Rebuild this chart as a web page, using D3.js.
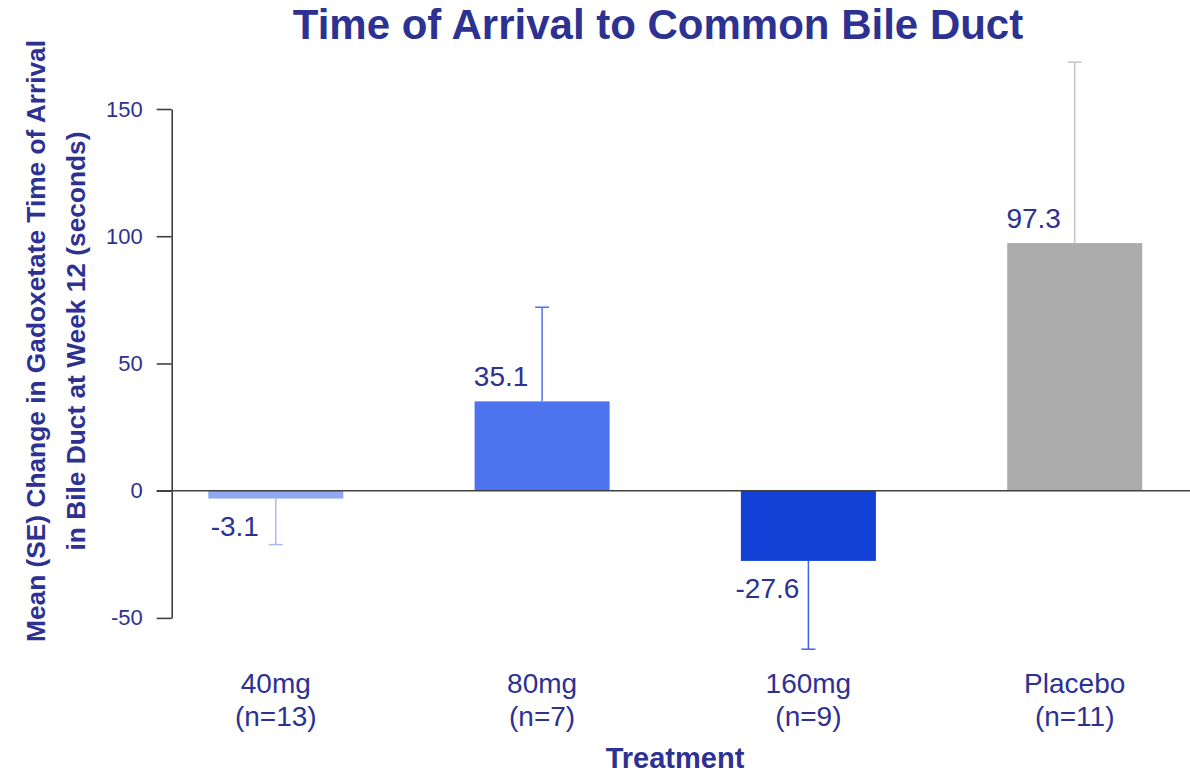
<!DOCTYPE html>
<html>
<head>
<meta charset="utf-8">
<script src="https://cdn.jsdelivr.net/npm/d3@7"></script>
<style>
  html, body { margin: 0; padding: 0; background: #fff; }
  svg { display: block; font-family: "Liberation Sans", Arial, sans-serif; }
</style>
</head>
<body>
<svg id="chart" width="1190" height="774"></svg>
<script>
// Treatment groups and their results
const doses      = ["40mg", "80mg", "160mg", "Placebo"];
const groupSizes = ["(n=13)", "(n=7)", "(n=9)", "(n=11)"];
const means      = [-3.1, 35.1, -27.6, 97.3];
const stdErrors  = [18.1, 37.0, 34.7, 71.1];
const barColors  = ["#91a7f4", "#4e73ee", "#1341d8", "#acacac"];
const errColors  = ["#a9bbf6", "#4e73ee", "#3d63e8", "#c4c4c4"];
const yTicks     = [-50, 0, 50, 100, 150];

const navy = "#2d3192";
const svg = d3.select("#chart");

const x = d3.scaleBand()
  .domain(doses)
  .range([171.7, 1178.8])
  .paddingInner(0.493)
  .paddingOuter(0.1374);

const y = d3.scaleLinear().domain([-50, 150]).range([617.9, 109]);

// Title
svg.append("text")
  .attr("x", 658).attr("y", 39)
  .attr("text-anchor", "middle")
  .attr("font-size", 42).attr("font-weight", "bold")
  .attr("fill", navy)
  .text("Time of Arrival to Common Bile Duct");

// Y axis (plain hyphen for negatives)
const yAxis = svg.append("g")
  .attr("transform", "translate(171.7,0)")
  .call(d3.axisLeft(y)
    .tickValues(yTicks)
    .tickFormat(v => String(v))
    .tickSize(15).tickPadding(14).tickSizeOuter(0));
yAxis.select(".domain").attr("stroke", "#404040").attr("stroke-width", 1.6);
yAxis.selectAll(".tick line").attr("stroke", "#404040").attr("stroke-width", 1.6);
yAxis.selectAll(".tick text")
  .attr("font-size", 22).attr("fill", navy)
  .attr("font-family", "Liberation Sans, Arial, sans-serif");

// Y axis title (two lines)
const yTitle = svg.append("text")
  .attr("transform", "translate(0,341) rotate(-90)")
  .attr("text-anchor", "middle")
  .attr("font-size", 26.3).attr("font-weight", "bold")
  .attr("fill", navy);
yTitle.append("tspan").attr("x", 0).attr("y", 45)
  .text("Mean (SE) Change in Gadoxetate Time of Arrival");
yTitle.append("tspan").attr("x", 0).attr("y", 85)
  .text("in Bile Duct at Week 12 (seconds)");

const rows = doses.map((d, i) => ({
  dose: d, n: groupSizes[i], mean: means[i], se: stdErrors[i],
  fill: barColors[i], err: errColors[i]
}));

// Error bars (drawn in the direction of the mean)
const errG = svg.append("g");
rows.forEach(r => {
  const cx = x(r.dose) + x.bandwidth() / 2;
  const end = r.mean >= 0 ? r.mean + r.se : r.mean - r.se;
  errG.append("line")
    .attr("x1", cx).attr("x2", cx)
    .attr("y1", y(r.mean)).attr("y2", y(end))
    .attr("stroke", r.err).attr("stroke-width", 1.5);
  errG.append("line")
    .attr("x1", cx - 7).attr("x2", cx + 7)
    .attr("y1", y(end)).attr("y2", y(end))
    .attr("stroke", r.err).attr("stroke-width", 1.5);
});

// Bars
svg.append("g").selectAll("rect")
  .data(rows)
  .join("rect")
  .attr("x", d => x(d.dose))
  .attr("width", x.bandwidth())
  .attr("y", d => y(Math.max(0, d.mean)))
  .attr("height", d => Math.abs(y(d.mean) - y(0)))
  .attr("fill", d => d.fill);

// Zero line
svg.append("line")
  .attr("x1", 156.7).attr("x2", 1190)
  .attr("y1", y(0)).attr("y2", y(0))
  .attr("stroke", "#404040").attr("stroke-width", 1.6);

// Value labels
svg.append("g").selectAll("text")
  .data(rows)
  .join("text")
  .attr("x", d => x(d.dose) + x.bandwidth() / 2 - 41)
  .attr("y", d => d.mean >= 0 ? y(d.mean) - 15 : y(d.mean) + 37)
  .attr("text-anchor", "middle")
  .attr("font-size", 28)
  .attr("fill", navy)
  .text(d => d.mean.toFixed(1));

// Category labels
const cat = svg.append("g").selectAll("text")
  .data(rows)
  .join("text")
  .attr("text-anchor", "middle")
  .attr("font-size", 28)
  .attr("fill", navy);
cat.append("tspan")
  .attr("x", d => x(d.dose) + x.bandwidth() / 2)
  .attr("y", 693)
  .text(d => d.dose);
cat.append("tspan")
  .attr("x", d => x(d.dose) + x.bandwidth() / 2)
  .attr("y", 726)
  .text(d => d.n);

// X axis title
svg.append("text")
  .attr("x", 675).attr("y", 768)
  .attr("text-anchor", "middle")
  .attr("font-size", 29).attr("font-weight", "bold")
  .attr("fill", navy)
  .text("Treatment");
</script>
</body>
</html>
